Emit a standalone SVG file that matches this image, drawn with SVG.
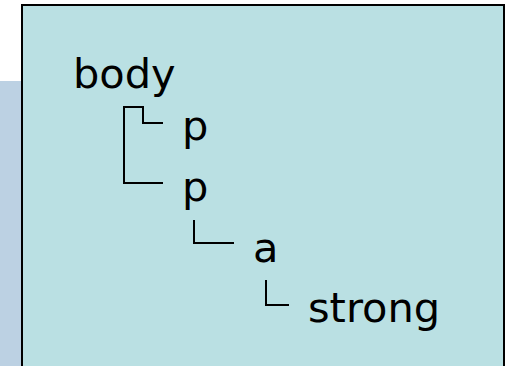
<svg xmlns="http://www.w3.org/2000/svg" width="506" height="366" viewBox="0 0 506 366">
  <style>
    .t { font-family: "DejaVu Sans", Verdana, sans-serif; font-size: 41.5px; fill: #000; }
    .c { fill: none; stroke: #000; stroke-width: 2; }
  </style>
  <rect x="0" y="0" width="506" height="366" fill="#ffffff"/>
  <rect x="0" y="81" width="30" height="285" fill="#bcd1e3"/>
  <rect x="22" y="5" width="482" height="370" fill="#bae0e3" stroke="#000" stroke-width="2"/>
  <g id="connectors">
    <path class="c" d="M163,123 H143 V107 H124 V183 H163"/>
    <path class="c" d="M194,220 V243 H234"/>
    <path class="c" d="M266,280 V305 H289"/>
  </g>
  <g id="node-body"><text class="t" x="73" y="88">body</text></g>
  <g id="node-p1"><text class="t" x="182" y="140">p</text></g>
  <g id="node-p2"><text class="t" x="182" y="201">p</text></g>
  <g id="node-a"><text class="t" x="253" y="262">a</text></g>
  <g id="node-strong"><text class="t" x="308" y="322">strong</text></g>
</svg>
